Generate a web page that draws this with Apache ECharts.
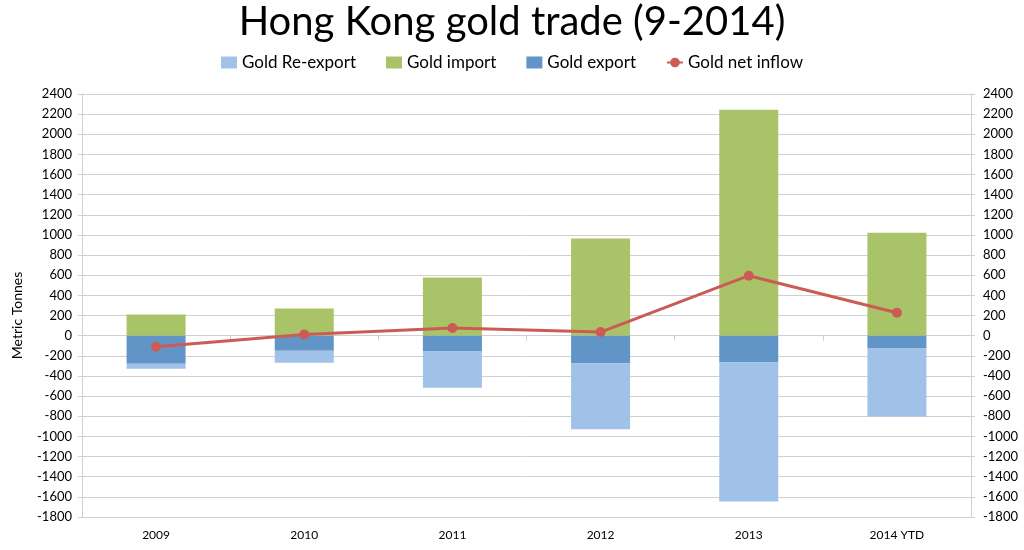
<!DOCTYPE html>
<html>
<head>
<meta charset="utf-8">
<script src="https://cdn.jsdelivr.net/npm/echarts@6/dist/echarts.min.js"></script>
<style>
    html, body { margin: 0; padding: 0; background: #fff; }
    #chart { width: 1024px; height: 550px; }
</style>
</head>
<body>
<div id="chart"></div>
<script>
// 数据
var years = ['2009', '2010', '2011', '2012', '2013', '2014 YTD']
var goldImport = [210, 271, 579, 966, 2244, 1023]
var goldExport = [-278, -149, -157, -274, -265, -126]
var goldReExport = [-50, -119, -359, -654, -1381, -676]
var netInflow = [-110, 13, 76, 36, 596, 228]

var fontFamily = 'Lato, "Open Sans", sans-serif'
var gridColor = '#D0D0D0'

var myChart = echarts.init(document.getElementById('chart'))

var valueAxis = function (pos) {
    return {
        type: 'value',
        position: pos,
        min: -1800,
        max: 2400,
        interval: 200,
        axisLine: { show: true, lineStyle: { color: gridColor } },
        axisTick: { show: true, length: 4, lineStyle: { color: gridColor } },
        axisLabel: {
            color: '#000',
            fontSize: 13,
            fontFamily: fontFamily,
            margin: pos === 'left' ? 10 : 12,
            // 不要千分位
            formatter: function (v) { return String(v) }
        },
        splitLine: { show: pos === 'left', lineStyle: { color: gridColor, width: 1 } }
    }
}

var leftAxis = valueAxis('left')
leftAxis.name = 'Metric Tonnes'
leftAxis.nameLocation = 'middle'
leftAxis.nameGap = 58
leftAxis.nameTextStyle = { color: '#000', fontSize: 14, fontFamily: fontFamily, padding: [0, 0, 0, -20] }

var option = {
    animation: false,
    textStyle: { fontFamily: fontFamily },
    title: {
        text: 'Hong Kong gold trade (9-2014)',
        left: 'center',
        top: -3,
        textStyle: { color: '#000', fontSize: 40, fontWeight: 'normal', fontFamily: fontFamily }
    },
    legend: {
        top: 49,
        left: 'center',
        itemWidth: 16,
        itemHeight: 12,
        itemGap: 30,
        textStyle: { color: '#000', fontSize: 17, fontFamily: fontFamily },
        data: [
            { name: 'Gold Re-export', icon: 'rect' },
            { name: 'Gold import', icon: 'rect' },
            { name: 'Gold export', icon: 'rect' },
            { name: 'Gold net inflow' }
        ]
    },
    grid: { left: 82, right: 53, top: 94, bottom: 33 },
    xAxis: [
        {
            type: 'category',
            data: years,
            position: 'bottom',
            axisLine: { onZero: false, lineStyle: { color: gridColor } },
            axisTick: { show: false },
            axisLabel: { color: '#000', fontSize: 12, fontFamily: fontFamily, margin: 12 }
        },
        {
            // 零轴上的刻度
            type: 'category',
            data: years,
            position: 'bottom',
            axisLine: { show: true, onZero: true, lineStyle: { color: gridColor } },
            axisTick: { show: true, length: 5, inside: false, lineStyle: { color: gridColor } },
            axisLabel: { show: false }
        }
    ],
    yAxis: [leftAxis, valueAxis('right')],
    series: [
        {
            name: 'Gold import',
            type: 'bar',
            stack: 'trade',
            barWidth: 59,
            itemStyle: { color: '#A9C468' },
            data: goldImport
        },
        {
            name: 'Gold export',
            type: 'bar',
            stack: 'trade',
            barWidth: 59,
            itemStyle: { color: '#6195C8' },
            data: goldExport
        },
        {
            name: 'Gold Re-export',
            type: 'bar',
            stack: 'trade',
            barWidth: 59,
            itemStyle: { color: '#A0C2E8' },
            data: goldReExport
        },
        {
            name: 'Gold net inflow',
            type: 'line',
            symbol: 'circle',
            symbolSize: 10,
            lineStyle: { color: '#CD5B55', width: 3 },
            itemStyle: { color: '#CD5B55' },
            z: 5,
            data: netInflow
        }
    ]
}

myChart.setOption(option)
</script>
</body>
</html>
